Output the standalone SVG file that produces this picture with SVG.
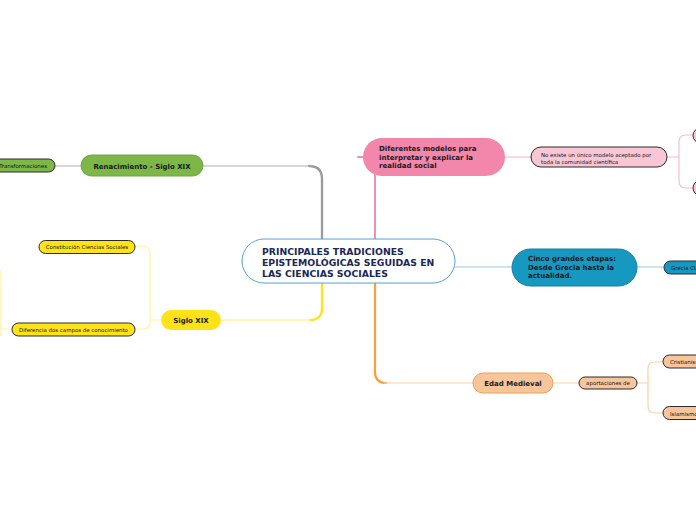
<svg xmlns="http://www.w3.org/2000/svg" width="696" height="520" viewBox="0 0 696 520">
<style>
text{font-family:"DejaVu Sans","Verdana",sans-serif}
.b{font-weight:bold;font-size:7px;fill:#1a1a1a}
.s{font-size:5.45px;fill:#151515}
.c{text-anchor:middle}
.ln{fill:none;stroke-linecap:round}
.leaf{stroke:#2a2a2a;stroke-width:1}
</style>
<rect width="696" height="520" fill="#ffffff"/>
<g id="connectors">
  <path class="ln" d="M322,240 V179 Q322,166 309,166" stroke="#9a9a9a" stroke-width="2.3"/>
  <path class="ln" d="M312,166 H203" stroke="#b0b0b0" stroke-width="1"/>
  <path class="ln" d="M81,166 H55" stroke="#b0b0b0" stroke-width="1"/>
  <path class="ln" d="M375,240 V165 Q375,157 367,157 H358" stroke="#f48fb1" stroke-width="2"/>
  <path class="ln" d="M505,157 H531" stroke="#f7b0c8" stroke-width="1"/>
  <path class="ln" d="M667,157 H679 M693,135 H686 Q679,135 679,142 V181 Q679,188 686,188 H693" stroke="#f9bcd0" stroke-width="1.2"/>
  <path class="ln" d="M455,267 H512" stroke="#9cc7e3" stroke-width="1"/>
  <path class="ln" d="M637,267 H664" stroke="#9cc7e3" stroke-width="1"/>
  <path class="ln" d="M322,283 V308 Q322,320 310,320" stroke="#ffe21a" stroke-width="2.3"/>
  <path class="ln" d="M312,320 H221" stroke="#fff07a" stroke-width="1"/>
  <path class="ln" d="M161,320 H150 M135,246 H143 Q150,246 150,253 V322 Q150,329 143,329 H135" stroke="#fff3a0" stroke-width="1.2"/>
  <path class="ln" d="M12,329 H1 M-6,268 Q1,268 1,275 V331 Q1,338 -6,338" stroke="#fff3a0" stroke-width="1.2"/>
  <path class="ln" d="M375,283 V372 Q375,383 386,383" stroke="#f5a03c" stroke-width="2.2"/>
  <path class="ln" d="M384,383 H473" stroke="#fad2ab" stroke-width="1"/>
  <path class="ln" d="M553,383 H579" stroke="#fad2ab" stroke-width="1"/>
  <path class="ln" d="M637,383 H648 M663,362 H655 Q648,362 648,369 V406 Q648,413 655,413 H663" stroke="#fad2ab" stroke-width="1.2"/>
</g>
<g id="central">
  <rect x="242" y="239" width="213" height="44" rx="22" fill="#ffffff" stroke="#5a9fd4" stroke-width="1"/>
  <text x="262" y="255" font-weight="bold" font-size="9.3" fill="#1a2757">PRINCIPALES TRADICIONES</text>
  <text x="262" y="266" font-weight="bold" font-size="9.3" fill="#1a2757">EPISTEMOLÓGICAS SEGUIDAS EN</text>
  <text x="262" y="277" font-weight="bold" font-size="9.3" fill="#1a2757">LAS CIENCIAS SOCIALES</text>
</g>
<g id="renacimiento">
  <rect x="81" y="155" width="122" height="21" rx="10.5" fill="#7cb747" stroke="#74a04c" stroke-width="1"/>
  <text class="b c" x="142" y="168.5">Renacimiento - Siglo XIX</text>
</g>
<g id="transformaciones">
  <rect class="leaf" x="-12" y="159" width="67" height="13" rx="6.5" fill="#7cb747"/>
  <text class="s" x="47" y="167.5" text-anchor="end">Transformaciones</text>
</g>
<g id="modelos">
  <rect x="363" y="138" width="142" height="38" rx="19" fill="#f386ab"/>
  <text class="b" x="379" y="151" fill="#1b3838">Diferentes modelos para</text>
  <text class="b" x="379" y="159.5" fill="#1b3838">interpretar y explicar la</text>
  <text class="b" x="379" y="168" fill="#1b3838">realidad social</text>
</g>
<g id="no-existe">
  <rect class="leaf" x="531" y="147" width="136" height="20" rx="10" fill="#f9c6d6"/>
  <text class="s" x="541" y="156.5">No existe un único modelo aceptado por</text>
  <text class="s" x="541" y="163.5">toda la comunidad científica</text>
</g>
<g id="pink-child-1">
  <rect class="leaf" x="693" y="128" width="40" height="15" rx="7.5" fill="#f9c6d6"/>
</g>
<g id="pink-child-2">
  <rect class="leaf" x="693" y="180.5" width="40" height="15" rx="7.5" fill="#f9c6d6"/>
</g>
<g id="cinco">
  <rect x="512" y="249" width="125" height="37" rx="18.5" fill="#1798c1" stroke="#137fa6" stroke-width="1"/>
  <text class="b" x="528" y="261">Cinco grandes etapas:</text>
  <text class="b" x="528" y="269.5">Desde Grecia hasta la</text>
  <text class="b" x="528" y="278">actualidad.</text>
</g>
<g id="grecia">
  <rect class="leaf" x="664" y="261" width="50" height="13" rx="6.5" fill="#1798c1"/>
  <text class="s" x="671" y="269.5" fill="#1a2a3a">Grecia Clásica</text>
</g>
<g id="siglo-xix">
  <rect x="161" y="310" width="60" height="20" rx="10" fill="#ffe21a"/>
  <text class="b c" x="191" y="322.5">Siglo XIX</text>
</g>
<g id="constitucion">
  <rect class="leaf" x="39" y="240.5" width="96" height="13" rx="6.5" fill="#ffe21a"/>
  <text class="s c" x="87" y="249">Constitución Ciencias Sociales</text>
</g>
<g id="diferencia">
  <rect class="leaf" x="12" y="323" width="123" height="13" rx="6.5" fill="#ffe21a"/>
  <text class="s c" x="73.5" y="331.5">Diferencia dos campos de conocimiento</text>
</g>
<g id="edad-medieval">
  <rect x="473" y="373" width="80" height="20" rx="10" fill="#f7c59c" stroke="#f4a04a" stroke-width="1"/>
  <text class="b c" x="513" y="385.8" fill="#333">Edad Medieval</text>
</g>
<g id="aportaciones">
  <rect class="leaf" x="579" y="377" width="58" height="12" rx="6" fill="#f7c59c"/>
  <text class="s c" x="608" y="385">aportaciones de</text>
</g>
<g id="cristianismo">
  <rect class="leaf" x="663" y="355" width="50" height="13" rx="6.5" fill="#f7c59c"/>
  <text class="s" x="670" y="364">Cristianismo</text>
</g>
<g id="islamismo">
  <rect class="leaf" x="663" y="406.5" width="50" height="13" rx="6.5" fill="#f7c59c"/>
  <text class="s" x="670" y="415.5">Islamismo</text>
</g>
</svg>
